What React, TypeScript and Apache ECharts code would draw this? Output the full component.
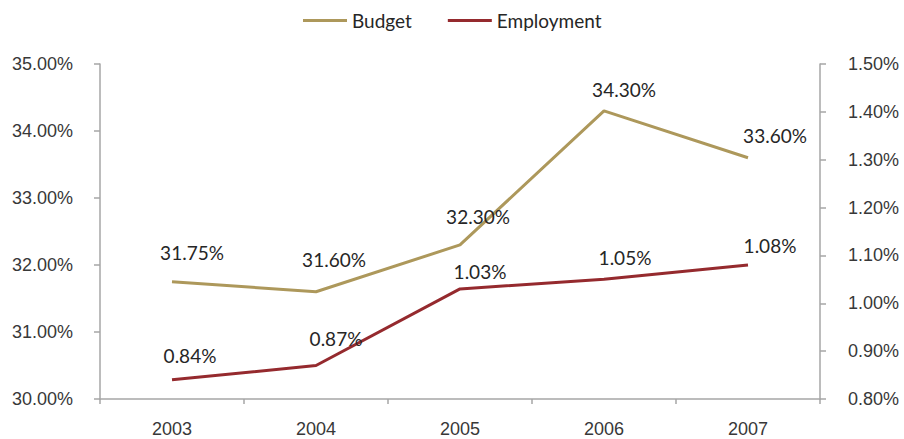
import React, { useEffect, useRef } from "react";
import * as echarts from "echarts";

const years = ["2003", "2004", "2005", "2006", "2007"];
const budget = [31.75, 31.6, 32.3, 34.3, 33.6];
const employment = [0.84, 0.87, 1.03, 1.05, 1.08];

// label nudges so value tags sit clear of the lines
const budgetLabelShift = [[20, -15], [18, -18], [18, -14], [20, -7], [27, -8]];
const employmentLabelShift = [[18, -10], [20, -13], [20, -3], [21, -7], [22, -5]];

const AXIS_COLOR = "#a6a6a6";
const LABEL_FONT = "Liberation Sans";
const DATA_FONT = "Lato";

const pct = (v: number) => v.toFixed(2) + "%";

export default function App() {
  const ref = useRef<HTMLDivElement>(null);

  useEffect(() => {
    if (!ref.current) return;
    const chart = echarts.init(ref.current, undefined, { renderer: "svg" });
    const axisLine = { show: true, lineStyle: { color: AXIS_COLOR, width: 1.5 } };
    const axisTick = { show: true, length: 6, lineStyle: { color: AXIS_COLOR, width: 1.5 } };
    const axisLabel = { color: "#383838", fontSize: 18, fontFamily: LABEL_FONT };
    const dataLabel = {
      show: true,
      position: "top" as const,
      fontSize: 19,
      color: "#262626",
      fontFamily: DATA_FONT,
      formatter: (p: any) => pct(Number(p.value)),
    };
    const withLabels = (values: number[], shifts: number[][]) =>
      values.map((v, i) => ({ value: v, label: { offset: shifts[i] } }));

    chart.setOption({
      animation: false,
      backgroundColor: "#fff",
      legend: {
        top: 6,
        left: 298,
        icon: "rect",
        itemWidth: 44,
        itemHeight: 3,
        itemGap: 36,
        textStyle: { fontSize: 19, color: "#262626", fontFamily: DATA_FONT },
        data: ["Budget", "Employment"],
      },
      grid: { left: 100, right: 84, top: 64, bottom: 40 },
      xAxis: {
        type: "category",
        data: years,
        boundaryGap: true,
        axisLine,
        axisTick: { ...axisTick, length: 5 },
        axisLabel: { ...axisLabel, margin: 21 },
        splitLine: { show: false },
      },
      yAxis: [
        {
          type: "value",
          min: 30,
          max: 35,
          interval: 1,
          position: "left",
          axisLine,
          axisTick,
          axisLabel: { ...axisLabel, margin: 27, padding: [8, 0, 0, 0], formatter: pct },
          splitLine: { show: false },
        },
        {
          type: "value",
          min: 0.8,
          max: 1.5,
          interval: 0.1,
          position: "right",
          axisLine,
          axisTick,
          axisLabel: { ...axisLabel, margin: 28, padding: [0, 0, 6, 0], formatter: pct },
          splitLine: { show: false },
        },
      ],
      series: [
        {
          name: "Budget",
          type: "line",
          yAxisIndex: 0,
          data: withLabels(budget, budgetLabelShift),
          symbol: "circle",
          symbolSize: 0,
          showSymbol: true,
          lineStyle: { color: "#ad985b", width: 3 },
          itemStyle: { color: "#ad985b" },
          label: dataLabel,
        },
        {
          name: "Employment",
          type: "line",
          yAxisIndex: 1,
          data: withLabels(employment, employmentLabelShift),
          symbol: "circle",
          symbolSize: 0,
          showSymbol: true,
          lineStyle: { color: "#952a2e", width: 3 },
          itemStyle: { color: "#952a2e" },
          label: dataLabel,
        },
      ],
    });
    return () => chart.dispose();
  }, []);

  return (
    <div
      ref={ref}
      style={{ position: "fixed", left: 0, top: 0, width: 904, height: 439 }}
    />
  );
}
